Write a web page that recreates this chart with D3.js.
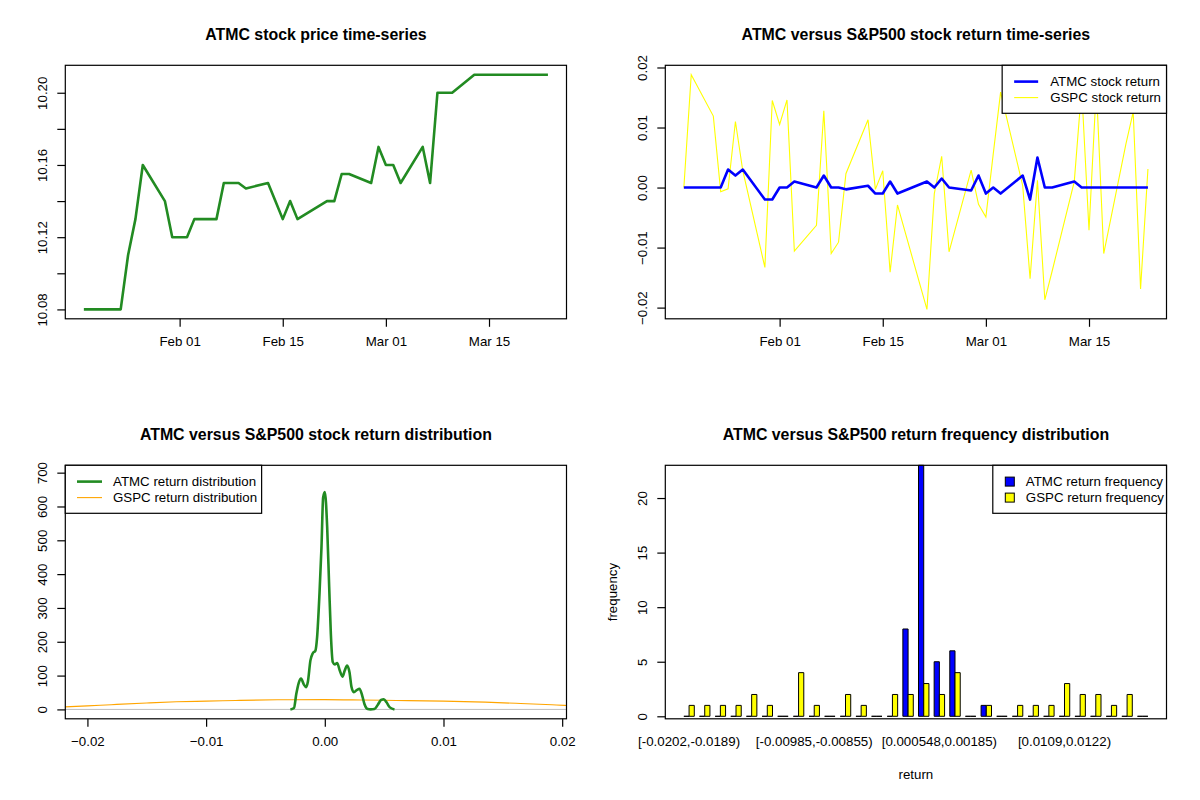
<!DOCTYPE html>
<html>
<head>
<meta charset="utf-8">
<script src="https://cdn.jsdelivr.net/npm/d3@7"></script>
<style>
  body { margin: 0; background: #fff; }
  svg { display: block; font-family: "Liberation Sans", Arial, Helvetica, sans-serif; }
  .title { font-weight: bold; font-size: 15.9px; }
  .axis text, .lab, .leg text { font-size: 13.3px; fill: #000; }
</style>
</head>
<body>
<svg id="chart" width="1200" height="800"></svg>
<script>
// ---- data -----------------------------------------------------------------

const dates = [
  "2017-01-19", "2017-01-20", "2017-01-23", "2017-01-24", "2017-01-25", "2017-01-26",
  "2017-01-27", "2017-01-30", "2017-01-31", "2017-02-01", "2017-02-02", "2017-02-03",
  "2017-02-06", "2017-02-07", "2017-02-08", "2017-02-09", "2017-02-10", "2017-02-13",
  "2017-02-14", "2017-02-15", "2017-02-16", "2017-02-17", "2017-02-21", "2017-02-22",
  "2017-02-23", "2017-02-24", "2017-02-27", "2017-02-28", "2017-03-01", "2017-03-02",
  "2017-03-03", "2017-03-06", "2017-03-07", "2017-03-08", "2017-03-09", "2017-03-10",
  "2017-03-13", "2017-03-14", "2017-03-15", "2017-03-16", "2017-03-17", "2017-03-20",
  "2017-03-21", "2017-03-22", "2017-03-23"
];

const atmcPrice = [
  10.08, 10.08, 10.08, 10.08, 10.11, 10.13, 10.16, 10.14, 10.12, 10.12, 10.12, 10.13,
  10.13, 10.15, 10.15, 10.15, 10.147, 10.15, 10.14, 10.13, 10.14, 10.13, 10.14, 10.14,
  10.155, 10.155, 10.15, 10.17, 10.16, 10.16, 10.15, 10.17, 10.15, 10.20, 10.20, 10.20,
  10.21, 10.21, 10.21, 10.21, 10.21, 10.21, 10.21, 10.21, 10.21
];

const atmcReturn = [
  0, 0, 0, 0, 0.003, 0.002, 0.003, -0.002, -0.002, 0, 0, 0.001,
  0, 0.002, 0, 0, -0.0003, 0.0003, -0.001, -0.001, 0.001, -0.001, 0.001, 0,
  0.0015, 0, -0.0005, 0.002, -0.001, 0, -0.001, 0.002, -0.002, 0.005, 0, 0,
  0.001, 0, 0, 0, 0, 0, 0, 0, 0
];

const gspcReturn = [
  0, 0.0188, 0.0119, -0.0007, -0.0002, 0.0110, 0.0028, -0.0133, 0.0145, 0.0105, 0.0146, -0.0106,
  -0.0063, 0.0128, -0.0110, -0.0091, 0.0023, 0.0113, -0.0003, 0.0028, -0.0141, -0.0029, -0.0203, -0.0010,
  0.0052, -0.0107, 0.0029, -0.0028, -0.0049, 0.0056, 0.0159, 0.0003, -0.0152, 0.0012, -0.0187, -0.0139,
  0.0010, 0.0165, -0.0071, 0.0168, -0.0110, 0.0072, 0.0126, -0.0169, 0.0031
];

const dateTicks = ["2017-02-01", "2017-02-15", "2017-03-01", "2017-03-15"];
const priceTicks = [10.08, 10.10, 10.12, 10.14, 10.16, 10.18, 10.20];
const priceLabels = [10.08, 10.12, 10.16, 10.20];
const returnTicks = [-0.02, -0.01, 0, 0.01, 0.02];

// kernel density curves
const atmcDensX = [
  -0.0029, -0.0026, -0.0024, -0.0022, -0.0020, -0.00177, -0.00157, -0.00143, -0.00121, -0.00101,
  -0.00079, -0.00065, -0.00045, -0.00028, -0.00014, 0.0000, 0.0002, 0.00037, 0.00051, 0.00067,
  0.00084, 0.00104, 0.00126, 0.00149, 0.00168, 0.00188, 0.00208, 0.00225, 0.00244, 0.00272,
  0.00292, 0.00315, 0.00334, 0.00362, 0.00385, 0.00418, 0.00447, 0.00475, 0.00497, 0.0052,
  0.00548, 0.00587
];
const atmcDensY = [
  0, 4, 46, 78, 91, 74, 66, 81, 145, 166,
  174, 213, 341, 479, 627, 643, 539, 361, 223, 140,
  133, 137, 115, 97, 115, 130, 110, 66, 51, 58,
  61, 41, 16, 1, 0, 1, 14, 28, 30, 21,
  6, 0
];
const gspcDensX = [-0.0222, -0.020, -0.018, -0.015, -0.0125, -0.010, -0.0075, -0.004,
  0, 0.003, 0.006, 0.010, 0.0135, 0.0165, 0.0195, 0.0208];
const gspcDensY = [7, 10.5, 14, 19, 22.5, 24.5, 26.5, 28.5,
  29, 28, 26.5, 24.5, 21.5, 17.5, 13, 11];
const densTicksY = [0, 100, 200, 300, 400, 500, 600, 700];
const densTop = 694;

// return frequency table (cut into 30 bins)
const bins = [
  "[-0.0202,-0.0189)", "[-0.0189,-0.0176)", "[-0.0176,-0.0163)", "[-0.0163,-0.015)",
  "[-0.015,-0.0137)", "[-0.0137,-0.0124)", "[-0.0124,-0.0111)", "[-0.0111,-0.00985)",
  "[-0.00985,-0.00855)", "[-0.00855,-0.00725)", "[-0.00725,-0.00596)", "[-0.00596,-0.00466)",
  "[-0.00466,-0.00336)", "[-0.00336,-0.00206)", "[-0.00206,-0.000756)", "[-0.000756,0.000548)",
  "[0.000548,0.00185)", "[0.00185,0.00315)", "[0.00315,0.00445)", "[0.00445,0.00575)",
  "[0.00575,0.00705)", "[0.00705,0.00835)", "[0.00835,0.00965)", "[0.00965,0.0109)",
  "[0.0109,0.0122)", "[0.0122,0.0135)", "[0.0135,0.0148)", "[0.0148,0.0161)",
  "[0.0161,0.0174)", "[0.0174,0.0187)"
];
const atmcFreq = [0, 0, 0, 0, 0, 0, 0, 0, 0, 0, 0, 0, 0, 0, 8, 23, 5, 6, 0, 1, 0, 0, 0, 0, 0, 0, 0, 0, 0, 0];
const gspcFreq = [1, 1, 1, 1, 2, 1, 0, 4, 1, 0, 2, 1, 0, 2, 2, 3, 2, 4, 0, 1, 0, 1, 1, 1, 3, 2, 2, 1, 2, 0];
const freqTicks = [0, 5, 10, 15, 20];

// ---- layout (R base graphics, mfrow = c(2,2)) ------------------------------

const W = 600, H = 400;
const M = { l: 65.3, r: 566.5, t: 65.3, b: 318.8 };
const LW1 = 1.1, LW2 = 2.6;
const COL = { green: "#228B22", blue: "#0000FF", yellow: "#FFFF00", orange: "#FFA500", gray: "#BEBEBE" };

const svg = d3.select("#chart");
svg.append("rect").attr("width", 1200).attr("height", 800).attr("fill", "#fff");

// R's default 4% axis extension
const rpad = ([a, b]) => { const d = (b - a) * 0.04; return [a - d, b + d]; };

function panel(col, row, title) {
  const g = svg.append("g").attr("transform", `translate(${col * W},${row * H})`);
  const id = `clip-${col}-${row}`;
  g.append("clipPath").attr("id", id).append("rect")
    .attr("x", M.l).attr("y", M.t).attr("width", M.r - M.l).attr("height", M.b - M.t);
  g.append("text").attr("class", "title")
    .attr("x", (M.l + M.r) / 2).attr("y", 34)
    .attr("text-anchor", "middle").attr("dominant-baseline", "central")
    .text(title);
  const plot = g.append("g").attr("clip-path", `url(#${id})`);
  return { g, plot };
}

function frameBox(g) {
  g.append("rect").attr("x", M.l).attr("y", M.t)
    .attr("width", M.r - M.l).attr("height", M.b - M.t)
    .attr("fill", "none").attr("stroke", "#000").attr("stroke-width", 1.2);
}

function bottomAxis(g, x, values, fmt) {
  const ax = g.append("g").attr("class", "axis")
    .attr("transform", `translate(0,${M.b})`)
    .call(d3.axisBottom(x).tickValues(values).tickFormat(fmt)
      .tickSize(8).tickSizeOuter(0));
  ax.select(".domain").remove();
  ax.selectAll("line").attr("stroke", "#000").attr("stroke-width", 1.2);
  ax.selectAll("text").attr("y", 23).attr("dy", null)
    .attr("dominant-baseline", "central").attr("font-family", null).attr("font-size", null);
}

function leftAxis(g, y, values, fmt) {
  const ax = g.append("g").attr("class", "axis")
    .attr("transform", `translate(${M.l},0)`)
    .call(d3.axisLeft(y).tickValues(values).tickFormat(fmt)
      .tickSize(8).tickSizeOuter(0));
  ax.select(".domain").remove();
  ax.selectAll("line").attr("stroke", "#000").attr("stroke-width", 1.2);
  ax.selectAll("text")
    .attr("transform", "rotate(-90)").attr("x", 0).attr("y", -23).attr("dy", null)
    .attr("text-anchor", "middle").attr("dominant-baseline", "central")
    .attr("font-family", null).attr("font-size", null);
}

// legend box: keys are line segments or filled squares, like R's legend()
function legend(g, items, o) {
  const lg = g.append("g").attr("class", "leg");
  const bg = lg.append("rect").attr("fill", "#fff").attr("stroke", "#000").attr("stroke-width", 1.2);
  const texts = items.map((it, i) => lg.append("text")
    .attr("y", M.t + 16.3 + i * 16).attr("dominant-baseline", "central").text(it.label));
  const tw = d3.max(texts, t => t.node().getComputedTextLength());
  const w = o.textAt + tw + o.pad;
  const left = o.anchor === "right" ? M.r - w : M.l;
  bg.attr("x", left).attr("y", M.t).attr("width", w).attr("height", 48);
  texts.forEach(t => t.attr("x", left + o.textAt));
  items.forEach((it, i) => {
    const cy = M.t + 16.3 + i * 16;
    if (it.square) {
      lg.append("rect").attr("x", left + o.key[0]).attr("y", cy - 4.5)
        .attr("width", o.key[1] - o.key[0]).attr("height", 9)
        .attr("fill", it.color).attr("stroke", "#000").attr("stroke-width", 1);
    } else {
      lg.append("line").attr("x1", left + o.key[0]).attr("x2", left + o.key[1])
        .attr("y1", cy).attr("y2", cy)
        .attr("stroke", it.color).attr("stroke-width", it.lw);
    }
  });
}

const parse = d3.utcParse("%Y-%m-%d");
const days = dates.map(parse);
const tickDays = dateTicks.map(parse);
const dayFmt = d3.utcFormat("%b %d");
const xDate = d3.scaleUtc(rpad(d3.extent(days, d => +d)), [M.l, M.r]);

/* ---- 1. price time-series ------------------------------------------------ */
{
  const { g, plot } = panel(0, 0, "ATMC stock price time-series");
  const y = d3.scaleLinear(rpad(d3.extent(atmcPrice)), [M.b, M.t]);
  plot.append("path")
    .attr("fill", "none").attr("stroke", COL.green).attr("stroke-width", LW2)
    .attr("stroke-linejoin", "round")
    .attr("d", d3.line().x((_, i) => xDate(days[i])).y(v => y(v))(atmcPrice));
  bottomAxis(g, xDate, tickDays, dayFmt);
  leftAxis(g, y, priceTicks, d => priceLabels.includes(d) ? d.toFixed(2) : "");
  frameBox(g);
}

/* ---- 2. return time-series ----------------------------------------------- */
{
  const { g, plot } = panel(1, 0, "ATMC versus S&P500 stock return time-series");
  const y = d3.scaleLinear(rpad(d3.extent(gspcReturn)), [M.b, M.t]);
  const line = d3.line().x((_, i) => xDate(days[i])).y(v => y(v));
  plot.append("path")
    .attr("fill", "none").attr("stroke", COL.yellow).attr("stroke-width", LW1)
    .attr("d", line(gspcReturn));
  plot.append("path")
    .attr("fill", "none").attr("stroke", COL.blue).attr("stroke-width", LW2)
    .attr("stroke-linejoin", "round")
    .attr("d", line(atmcReturn));
  bottomAxis(g, xDate, tickDays, dayFmt);
  leftAxis(g, y, returnTicks, d3.format(".2f"));
  frameBox(g);
  legend(g, [
    { label: "ATMC stock return", color: COL.blue, lw: LW2 },
    { label: "GSPC stock return", color: COL.yellow, lw: LW1 }
  ], { anchor: "right", textAt: 48, pad: 5.5, key: [12, 36] });
}

/* ---- 3. return density ---------------------------------------------------- */
{
  const { g, plot } = panel(0, 1, "ATMC versus S&P500 stock return distribution");
  const x = d3.scaleLinear(rpad(d3.extent(gspcReturn)), [M.l, M.r]);
  const y = d3.scaleLinear(rpad([0, densTop]), [M.b, M.t]);
  plot.append("line")
    .attr("x1", M.l).attr("x2", M.r).attr("y1", y(0)).attr("y2", y(0))
    .attr("stroke", COL.gray).attr("stroke-width", 1);
  plot.append("path")
    .attr("fill", "none").attr("stroke", COL.orange).attr("stroke-width", LW1)
    .attr("d", d3.line().x((_, i) => x(gspcDensX[i])).y(v => y(v))
      .curve(d3.curveMonotoneX)(gspcDensY));
  plot.append("path")
    .attr("fill", "none").attr("stroke", COL.green).attr("stroke-width", LW2)
    .attr("stroke-linejoin", "round")
    .attr("d", d3.line().x((_, i) => x(atmcDensX[i])).y(v => y(v))
      .curve(d3.curveMonotoneX)(atmcDensY));
  bottomAxis(g, x, returnTicks, d3.format(".2f"));
  leftAxis(g, y, densTicksY, d3.format("d"));
  frameBox(g);
  legend(g, [
    { label: "ATMC return distribution", color: COL.green, lw: LW2 },
    { label: "GSPC return distribution", color: COL.orange, lw: LW1 }
  ], { anchor: "left", textAt: 47.7, pad: 4.5, key: [11.7, 36.7] });
}

/* ---- 4. frequency barplot (beside = TRUE) --------------------------------- */
{
  const { g } = panel(1, 1, "ATMC versus S&P500 return frequency distribution");
  const n = bins.length;
  // each group: gap of 1, then two bars of width 1
  const x = d3.scaleLinear(rpad([1, 3 * n]), [M.l, M.r]);
  // bars stand a hair above the box bottom, as in the reference
  const y = d3.scaleLinear([0, d3.max([...atmcFreq, ...gspcFreq])], [M.b - 2.5, M.t]);
  const series = [[atmcFreq, COL.blue], [gspcFreq, COL.yellow]];
  series.forEach(([vals, color], s) => {
    g.append("g").selectAll("path").data(vals).join("path")
      .attr("d", (v, i) => {
        const x0 = x(1 + 3 * i + s), x1 = x(2 + 3 * i + s);
        return `M${x0},${y(0)}H${x1}V${y(v)}H${x0}Z`;
      })
      .attr("fill", color).attr("stroke", "#000").attr("stroke-width", 1);
  });
  // group names: R only keeps the ones that do not overlap
  g.append("g").selectAll("text").data(bins).join("text")
    .attr("class", "lab")
    .attr("x", (_, i) => x(2 + 3 * i)).attr("y", M.b + 23)
    .attr("text-anchor", "middle").attr("dominant-baseline", "central")
    .text((d, i) => i % 8 === 0 ? d : "");
  leftAxis(g, y, freqTicks, d3.format("d"));
  g.append("text").attr("class", "lab")
    .attr("x", (M.l + M.r) / 2).attr("y", M.b + 56)
    .attr("text-anchor", "middle").attr("dominant-baseline", "central").text("return");
  g.append("text").attr("class", "lab")
    .attr("transform", `translate(12,${(M.t + M.b) / 2}) rotate(-90)`)
    .attr("text-anchor", "middle").attr("dominant-baseline", "central").text("frequency");
  frameBox(g);
  legend(g, [
    { label: "ATMC return frequency", color: COL.blue, square: true },
    { label: "GSPC return frequency", color: COL.yellow, square: true }
  ], { anchor: "right", textAt: 33, pad: 2.5, key: [12.5, 21.5] });
}
</script>
</body>
</html>
